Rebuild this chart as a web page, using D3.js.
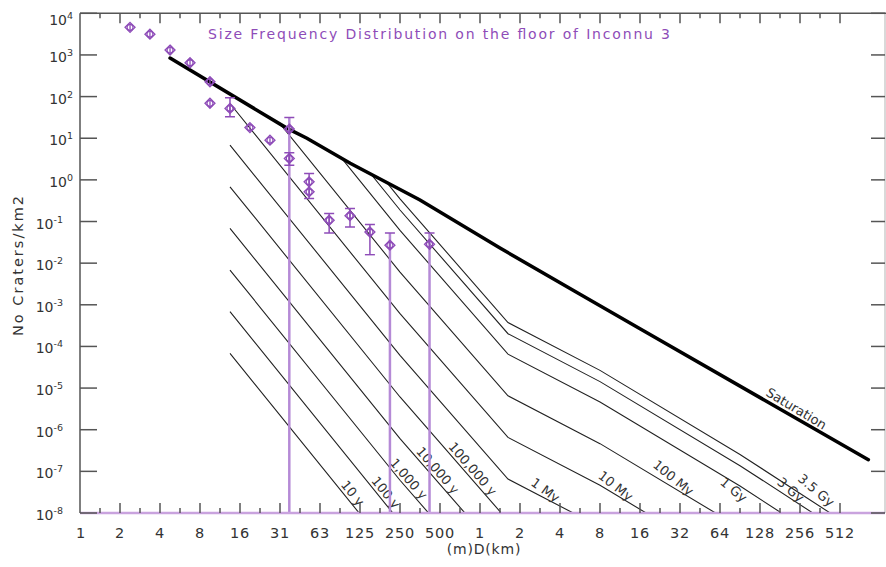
<!DOCTYPE html>
<html>
<head>
<meta charset="utf-8">
<title>Size Frequency Distribution on the floor of Inconnu 3</title>
<script src="https://cdn.jsdelivr.net/npm/d3@7"></script>
<style>
  body { margin: 0; background: #fff; }
  svg text { font-family: "DejaVu Sans", sans-serif; fill: #333; }
</style>
</head>
<body>
<svg id="chart" width="886" height="567"></svg>
<script>
// axis ticks (diameter in metres, log2 axis) and their labels
const xTickVals = d3.range(0, 20).map(function(i) { return Math.pow(2, i); });
const xTickLabels = ["1", "2", "4", "8", "16", "31", "63", "125", "250", "500",
                     "1", "2", "4", "8", "16", "32", "64", "128", "256", "512"];
const yTickExps = [4, 3, 2, 1, 0, -1, -2, -3, -4, -5, -6, -7, -8];

// measured crater counts (diameter m, cumulative N/km2)
const craterD = [2.38, 3.36, 4.76, 6.73, 9.51, 9.51, 13.45, 19.0, 26.9, 37.6, 37.6, 53, 53, 75, 107.6, 152, 215, 427];
const craterN = [4600, 3150, 1310, 650, 227, 69, 52, 18, 9.0, 16.6, 3.27, 0.895, 0.515, 0.107, 0.138, 0.056, 0.027, 0.0285];
// error bar limits (null = no bar, 0 = down to the axis)
const errHi = [null, null, null, null, null, null, 93.6, null, null, 31.3, 4.46, 1.43, null, 0.156, 0.205, 0.085, 0.053, 0.053];
const errLo = [null, null, null, null, null, null, 32.7, null, null, 0, 2.25, 0.357, null, 0.053, 0.074, 0.016, 0, 0];

// saturation curve
const satD = [4.76, 36, 51, 108, 362, 1448, 5793, 16384, 857000];
const satN = [843, 17.5, 10.0, 2.5, 0.33, 0.023, 1.8e-3, 2.66e-4, 1.9e-7];

// isochrons: diameters and cumulative densities for each age
const isoD = [13.45, 256, 1663, 8192, 92682, 1145000];
const isoLabels = ["10 y", "100 y", "1,000 y", "10,000 y", "100,000 y", "1 My", "10 My", "100 My", "1 Gy", "3 Gy", "3.5 Gy"];
const isoN = [
  [6.82e-5, 6.11e-10, 6.53e-13],
  [6.82e-4, 6.11e-9, 6.53e-12],
  [6.82e-3, 6.11e-8, 6.53e-11],
  [0.0682, 6.11e-7, 6.53e-10],
  [0.682, 6.11e-6, 6.53e-9],
  [6.82, 6.11e-5, 6.53e-8, 4.63e-9],
  [68.2, 6.11e-4, 6.53e-7, 4.63e-8, 4.44e-10],
  [682, 6.11e-3, 6.53e-6, 4.63e-7, 4.44e-9],
  [6820, 0.0611, 6.53e-5, 4.63e-6, 4.44e-8, 2.41e-10],
  [21100, 0.189, 2.02e-4, 1.43e-5, 1.37e-7, 7.45e-10],
  [39200, 0.351, 3.75e-4, 2.66e-5, 2.55e-7, 1.39e-9]
];

// label placement along each curve (diameter, m), offset from the curve (px), fixed angle
const isoLabelAt = [102, 181, 270, 446, 817, 2947, 9916, 26600, 89500, 205000, 305000];
const isoLabelOff = [-3, -3, -3, -3, -3, -3, -3, -4, 11, -3, -7];
const isoLabelAng = [null, null, null, null, null, 36, 38, 39, 40, 40, 40];

const purple = "#8e4cb8";
const purpleLight = "#b58ad6";
const axisColor = "#555";

const svg = d3.select("#chart");
const pLeft = 80, pRight = 885, pTop = 13.3, pBottom = 513;

const x = d3.scaleLog().base(2)
  .domain([1, Math.pow(2, 20.125)])
  .range([pLeft, pRight]);
const y = d3.scaleLog()
  .domain([1e-8, 1e4])
  .range([pBottom, pTop]);

// clip paths
const defs = svg.append("defs");
defs.append("clipPath").attr("id", "plotClip")
  .append("rect")
    .attr("x", pLeft).attr("y", pTop)
    .attr("width", pRight - pLeft).attr("height", pBottom - pTop);
const satPts = satD.map(function(d, i) { return [d, satN[i]]; });
defs.append("clipPath").attr("id", "satClip")
  .append("path")
    .attr("d", d3.area()
      .x(function(d) { return x(d[0]); })
      .y0(pBottom + 20)
      .y1(function(d) { return y(d[1]); })(satPts));

const line = d3.line()
  .x(function(d) { return x(d[0]); })
  .y(function(d) { return y(d[1]); });

// isochrons
const isoGroup = svg.append("g").attr("clip-path", "url(#plotClip)")
  .append("g").attr("clip-path", "url(#satClip)");
const isoPts = isoN.map(function(vals) {
  return vals.map(function(v, i) { return [isoD[i], v]; });
});
isoGroup.selectAll("path")
  .data(isoPts)
  .enter()
  .append("path")
    .attr("d", line)
    .attr("fill", "none")
    .attr("stroke", "#222")
    .attr("stroke-width", 1.1);

// saturation
svg.append("path")
  .attr("d", line(satPts))
  .attr("fill", "none")
  .attr("stroke", "#000")
  .attr("stroke-width", 3.5)
  .attr("stroke-linecap", "round");

// label along a curve
function curveLabel(pts, atD, text, off, fixedAng) {
  const px = pts.map(function(p) { return [x(p[0]), y(p[1])]; });
  const tx = x(atD);
  let i = 0;
  while (i < px.length - 2 && px[i + 1][0] < tx) i++;
  const a = px[i], b = px[i + 1];
  const t = (tx - a[0]) / (b[0] - a[0]);
  const ty = a[1] + t * (b[1] - a[1]);
  const ang = fixedAng != null ? fixedAng : Math.atan2(b[1] - a[1], b[0] - a[0]) * 180 / Math.PI;
  svg.append("text")
    .attr("transform", "translate(" + tx + "," + ty + ") rotate(" + ang + ")")
    .attr("text-anchor", "middle")
    .attr("dy", off)
    .attr("font-size", 13)
    .text(text);
}
isoPts.forEach(function(pts, i) {
  curveLabel(pts, isoLabelAt[i], isoLabels[i], isoLabelOff[i], isoLabelAng[i]);
});
curveLabel(satPts, 228000, "Saturation", -4, 31);

// data: long bars, error bars, symbols
const plotG = svg.append("g").attr("clip-path", "url(#plotClip)");
craterD.forEach(function(d, i) {
  if (errHi[i] === null) return;
  const cx = x(d);
  const yh = y(errHi[i]);
  const yl = errLo[i] === 0 ? pBottom : y(errLo[i]);
  plotG.append("line")
    .attr("x1", cx).attr("x2", cx).attr("y1", yh).attr("y2", yl)
    .attr("stroke", errLo[i] === 0 ? purpleLight : purple)
    .attr("stroke-width", errLo[i] === 0 ? 2.5 : 1.5);
  plotG.append("line")
    .attr("x1", cx - 5).attr("x2", cx + 5).attr("y1", yh).attr("y2", yh)
    .attr("stroke", purple).attr("stroke-width", 1.5);
  if (errLo[i] !== 0) {
    plotG.append("line")
      .attr("x1", cx - 5).attr("x2", cx + 5).attr("y1", yl).attr("y2", yl)
      .attr("stroke", purple).attr("stroke-width", 1.5);
  }
});
const sym = plotG.selectAll("g.sym")
  .data(craterD.map(function(d, i) { return [d, craterN[i]]; }))
  .enter()
  .append("g")
    .attr("class", "sym")
    .attr("transform", function(d) { return "translate(" + x(d[0]) + "," + y(d[1]) + ")"; })
    .attr("fill", "none")
    .attr("stroke", purple)
    .attr("stroke-width", 1.3);
sym.append("path").attr("d", "M0,-5L5,0L0,5L-5,0Z");
sym.append("circle").attr("r", 3);
sym.append("line").attr("x1", 0).attr("x2", 0).attr("y1", -4).attr("y2", 4);

// bottom purple baseline
svg.append("line")
  .attr("x1", pLeft).attr("x2", pRight).attr("y1", pBottom).attr("y2", pBottom)
  .attr("stroke", axisColor).attr("stroke-width", 1.5);
svg.append("line")
  .attr("x1", pLeft).attr("x2", pRight).attr("y1", pBottom).attr("y2", pBottom)
  .attr("stroke", "#c9a3de").attr("stroke-width", 2.5);

// frame
const axes = svg.append("g").attr("stroke", axisColor).attr("stroke-width", 1.5);
axes.append("line").attr("x1", pLeft).attr("x2", pLeft).attr("y1", pTop).attr("y2", pBottom);
axes.append("line").attr("x1", pLeft).attr("x2", pRight + 2).attr("y1", pTop).attr("y2", pTop);
axes.append("line").attr("x1", pRight).attr("x2", pRight).attr("y1", pTop).attr("y2", pBottom).attr("stroke-opacity", 0.3);

// x ticks, major and minor, top and bottom
const minorVals = d3.range(0, 19).map(function(i) { return Math.pow(2, i + 0.5); });
xTickVals.slice(1).forEach(function(v) {
  axes.append("line").attr("x1", x(v)).attr("x2", x(v)).attr("y1", pBottom).attr("y2", pBottom - 10);
  axes.append("line").attr("x1", x(v)).attr("x2", x(v)).attr("y1", pTop).attr("y2", pTop + 10);
});
minorVals.forEach(function(v) {
  axes.append("line").attr("x1", x(v)).attr("x2", x(v)).attr("y1", pBottom).attr("y2", pBottom - 5);
  axes.append("line").attr("x1", x(v)).attr("x2", x(v)).attr("y1", pTop).attr("y2", pTop + 5);
});
// y ticks left and right
yTickExps.forEach(function(e) {
  const v = Math.pow(10, e);
  axes.append("line").attr("x1", pLeft).attr("x2", pLeft + 17).attr("y1", y(v)).attr("y2", y(v));
  axes.append("line").attr("x1", pRight - 14).attr("x2", pRight).attr("y1", y(v)).attr("y2", y(v));
});

// tick labels
svg.selectAll("text.xt")
  .data(xTickVals)
  .enter()
  .append("text")
    .attr("class", "xt")
    .attr("x", function(d) { return x(d) + (d === 1 ? 1 : 0); })
    .attr("y", 538)
    .attr("text-anchor", "middle")
    .attr("font-size", 14.5)
    .attr("letter-spacing", 0.8)
    .text(function(d, i) { return xTickLabels[i]; });

const yt = svg.selectAll("text.yt")
  .data(yTickExps)
  .enter()
  .append("text")
    .attr("class", "yt")
    .attr("x", function(e) { return e >= 0 ? 73 : 63; })
    .attr("y", function(e) { return e === 4 ? 25 : y(Math.pow(10, e)) + 7; })
    .attr("text-anchor", "end")
    .attr("font-size", 14);
yt.append("tspan").text("10");
yt.append("tspan")
  .attr("dy", -6)
  .attr("font-size", 9.5)
  .text(function(e) { return e < 0 ? "-" + (-e) : String(e); });

// titles
svg.append("text")
  .attr("x", 208).attr("y", 39)
  .attr("textLength", 462).attr("lengthAdjust", "spacing")
  .attr("font-size", 14)
  .style("fill", purple)
  .text("Size Frequency Distribution on the floor of Inconnu 3");
svg.append("text")
  .attr("transform", "translate(23,265) rotate(-90)")
  .attr("text-anchor", "middle")
  .attr("font-size", 14.5)
  .attr("letter-spacing", 2)
  .text("No Craters/km2");
svg.append("text")
  .attr("x", 484).attr("y", 554)
  .attr("text-anchor", "middle")
  .attr("font-size", 14)
  .attr("letter-spacing", 0.8)
  .text("(m)D(km)");
</script>
</body>
</html>
